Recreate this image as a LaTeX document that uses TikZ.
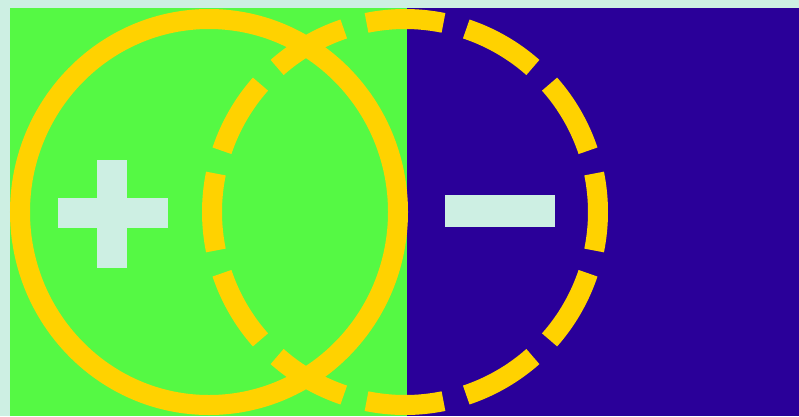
\documentclass[tikz,border=0pt]{standalone}
\usepackage{tikz}
\definecolor{mintbg}{HTML}{CDEFE3}
\definecolor{plusgreen}{HTML}{55F944}
\definecolor{minusblue}{HTML}{2A0099}
\definecolor{ringyellow}{HTML}{FFD200}

\begin{document}
\begin{tikzpicture}[x=1pt, y=-1pt,
    ring/.style={draw=ringyellow, line width=20pt},
    signbar/.style={fill=mintbg}]
  \fill[mintbg] (0,0) rectangle (799,416);
  \useasboundingbox (0,0) rectangle (799,416);
  % two halves
  \fill[plusgreen] (10,8) rectangle (407,416);
  \fill[minusblue] (407,8) rectangle (799,416);
  % plus and minus
  \fill[signbar] (58,198) rectangle (168,228);
  \fill[signbar] (97,160) rectangle (127,268);
  \fill[signbar] (445,195) rectangle (555,227);
  % solid ring
  \coordinate (solidc) at (209,212);
  \draw[ring] (solidc) ellipse[x radius=189, y radius=193];
  % dashed ring
  \coordinate (dashc) at (405,212);
  \foreach \a in {0,30,...,330}
    \draw[ring] ([shift={(\a-11.5:193)}]dashc)
      arc[start angle=\a-11.5, end angle=\a+11.5, radius=193];
\end{tikzpicture}
\end{document}
